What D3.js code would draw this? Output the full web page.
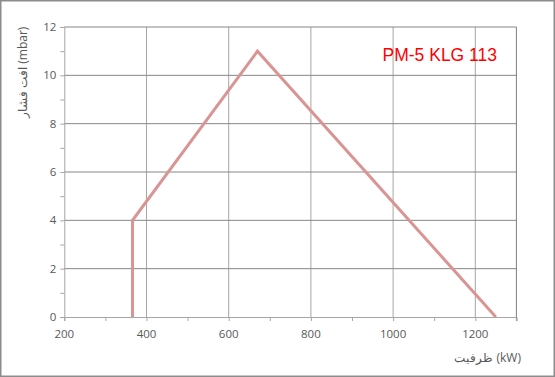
<!DOCTYPE html>
<html>
<head>
<meta charset="utf-8">
<script src="https://cdn.jsdelivr.net/npm/d3@7"></script>
<style>
  html, body { margin: 0; padding: 0; background: #fff; }
  svg { display: block; }
</style>
</head>
<body>
<svg id="chart" width="555" height="377"></svg>
<script>
const capacity = [366, 366, 670, 1250];
const pressure = [0, 4, 11, 0];
const xTicks = [200, 400, 600, 800, 1000, 1200];
const yTicks = [0, 2, 4, 6, 8, 10, 12];
const chartTitle = "PM-5 KLG 113";
const xTitle = "ظرفیت (kW)";
const yTitle = "افت فشار (mbar)";

const W = 555, H = 377;
const m = { left: 64.3, right: 516.4, top: 27, bottom: 317 };
const svg = d3.select("#chart");
const fontF = "'Open Sans', 'Noto Sans', sans-serif";

// outer frame
svg.append("rect").attr("x", 0.75).attr("y", 0.75).attr("width", W - 1.5).attr("height", H - 1.5)
  .attr("fill", "#fff").attr("stroke", "#8c8c8c").attr("stroke-width", 1.5);

const x = d3.scaleLinear().domain([200, 1300]).range([m.left, m.right]);
const y = d3.scaleLinear().domain([0, 12]).range([m.bottom, m.top]);

// vertical grid
svg.append("g").selectAll("line").data(xTicks.slice(1)).join("line")
  .attr("x1", d => x(d)).attr("x2", d => x(d))
  .attr("y1", m.top).attr("y2", m.bottom)
  .attr("stroke", "#a6a6a6").attr("stroke-width", 1);

// horizontal grid
svg.append("g").selectAll("line").data(yTicks.slice(1)).join("line")
  .attr("x1", m.left).attr("x2", m.right)
  .attr("y1", d => y(d)).attr("y2", d => y(d))
  .attr("stroke", "#868686").attr("stroke-width", 1);

// right edge of plot
svg.append("line").attr("x1", x(1300)).attr("x2", x(1300)).attr("y1", m.top).attr("y2", m.bottom + 4)
  .attr("stroke", "#7f7f7f").attr("stroke-width", 1);

// x axis
const xAxis = svg.append("g").attr("transform", `translate(0,${m.bottom})`)
  .call(d3.axisBottom(x).tickValues(d3.range(200, 1301, 100)).tickSize(4).tickFormat(""));
xAxis.select(".domain").attr("stroke", "#a6a6a6");
xAxis.selectAll(".tick line").attr("stroke", "#a6a6a6");
svg.append("g").selectAll("text").data(xTicks).join("text")
  .attr("x", d => x(d)).attr("y", m.bottom + 21)
  .attr("text-anchor", "middle").attr("font-family", fontF).attr("font-size", 11.5)
  .attr("fill", "#595959").text(d => d);

// y axis
const yAxis = svg.append("g").attr("transform", `translate(${m.left},0)`)
  .call(d3.axisLeft(y).tickValues(d3.range(0, 13, 1)).tickSize(4).tickFormat(""));
yAxis.select(".domain").attr("stroke", "#a6a6a6");
yAxis.selectAll(".tick line").attr("stroke", "#a6a6a6");
svg.append("g").selectAll("text").data(yTicks).join("text")
  .attr("x", m.left - 8).attr("y", d => y(d) + 4)
  .attr("text-anchor", "end").attr("font-family", fontF).attr("font-size", 11.5)
  .attr("fill", "#595959").text(d => d);

// series
const pts = capacity.map((c, i) => [c, pressure[i]]);
svg.append("path").datum(pts)
  .attr("d", d3.line().x(d => x(d[0])).y(d => y(d[1])))
  .attr("fill", "none").attr("stroke", "#d99594").attr("stroke-width", 3)
  .attr("stroke-linejoin", "miter");

// titles
svg.append("text").attr("x", 497).attr("y", 61).attr("text-anchor", "end")
  .attr("font-family", "'Liberation Sans', Arial, sans-serif").attr("font-size", 17.5)
  .attr("fill", "#ff0000").text(chartTitle);

svg.append("text").attr("x", 521).attr("y", 362).attr("text-anchor", "end")
  .attr("font-family", fontF).attr("font-size", 12).attr("fill", "#595959").text(xTitle);

svg.append("text").attr("transform", "translate(27,118) rotate(-90)")
  .attr("text-anchor", "start")
  .attr("font-family", fontF).attr("font-size", 12).attr("fill", "#595959").text(yTitle);
</script>
</body>
</html>
